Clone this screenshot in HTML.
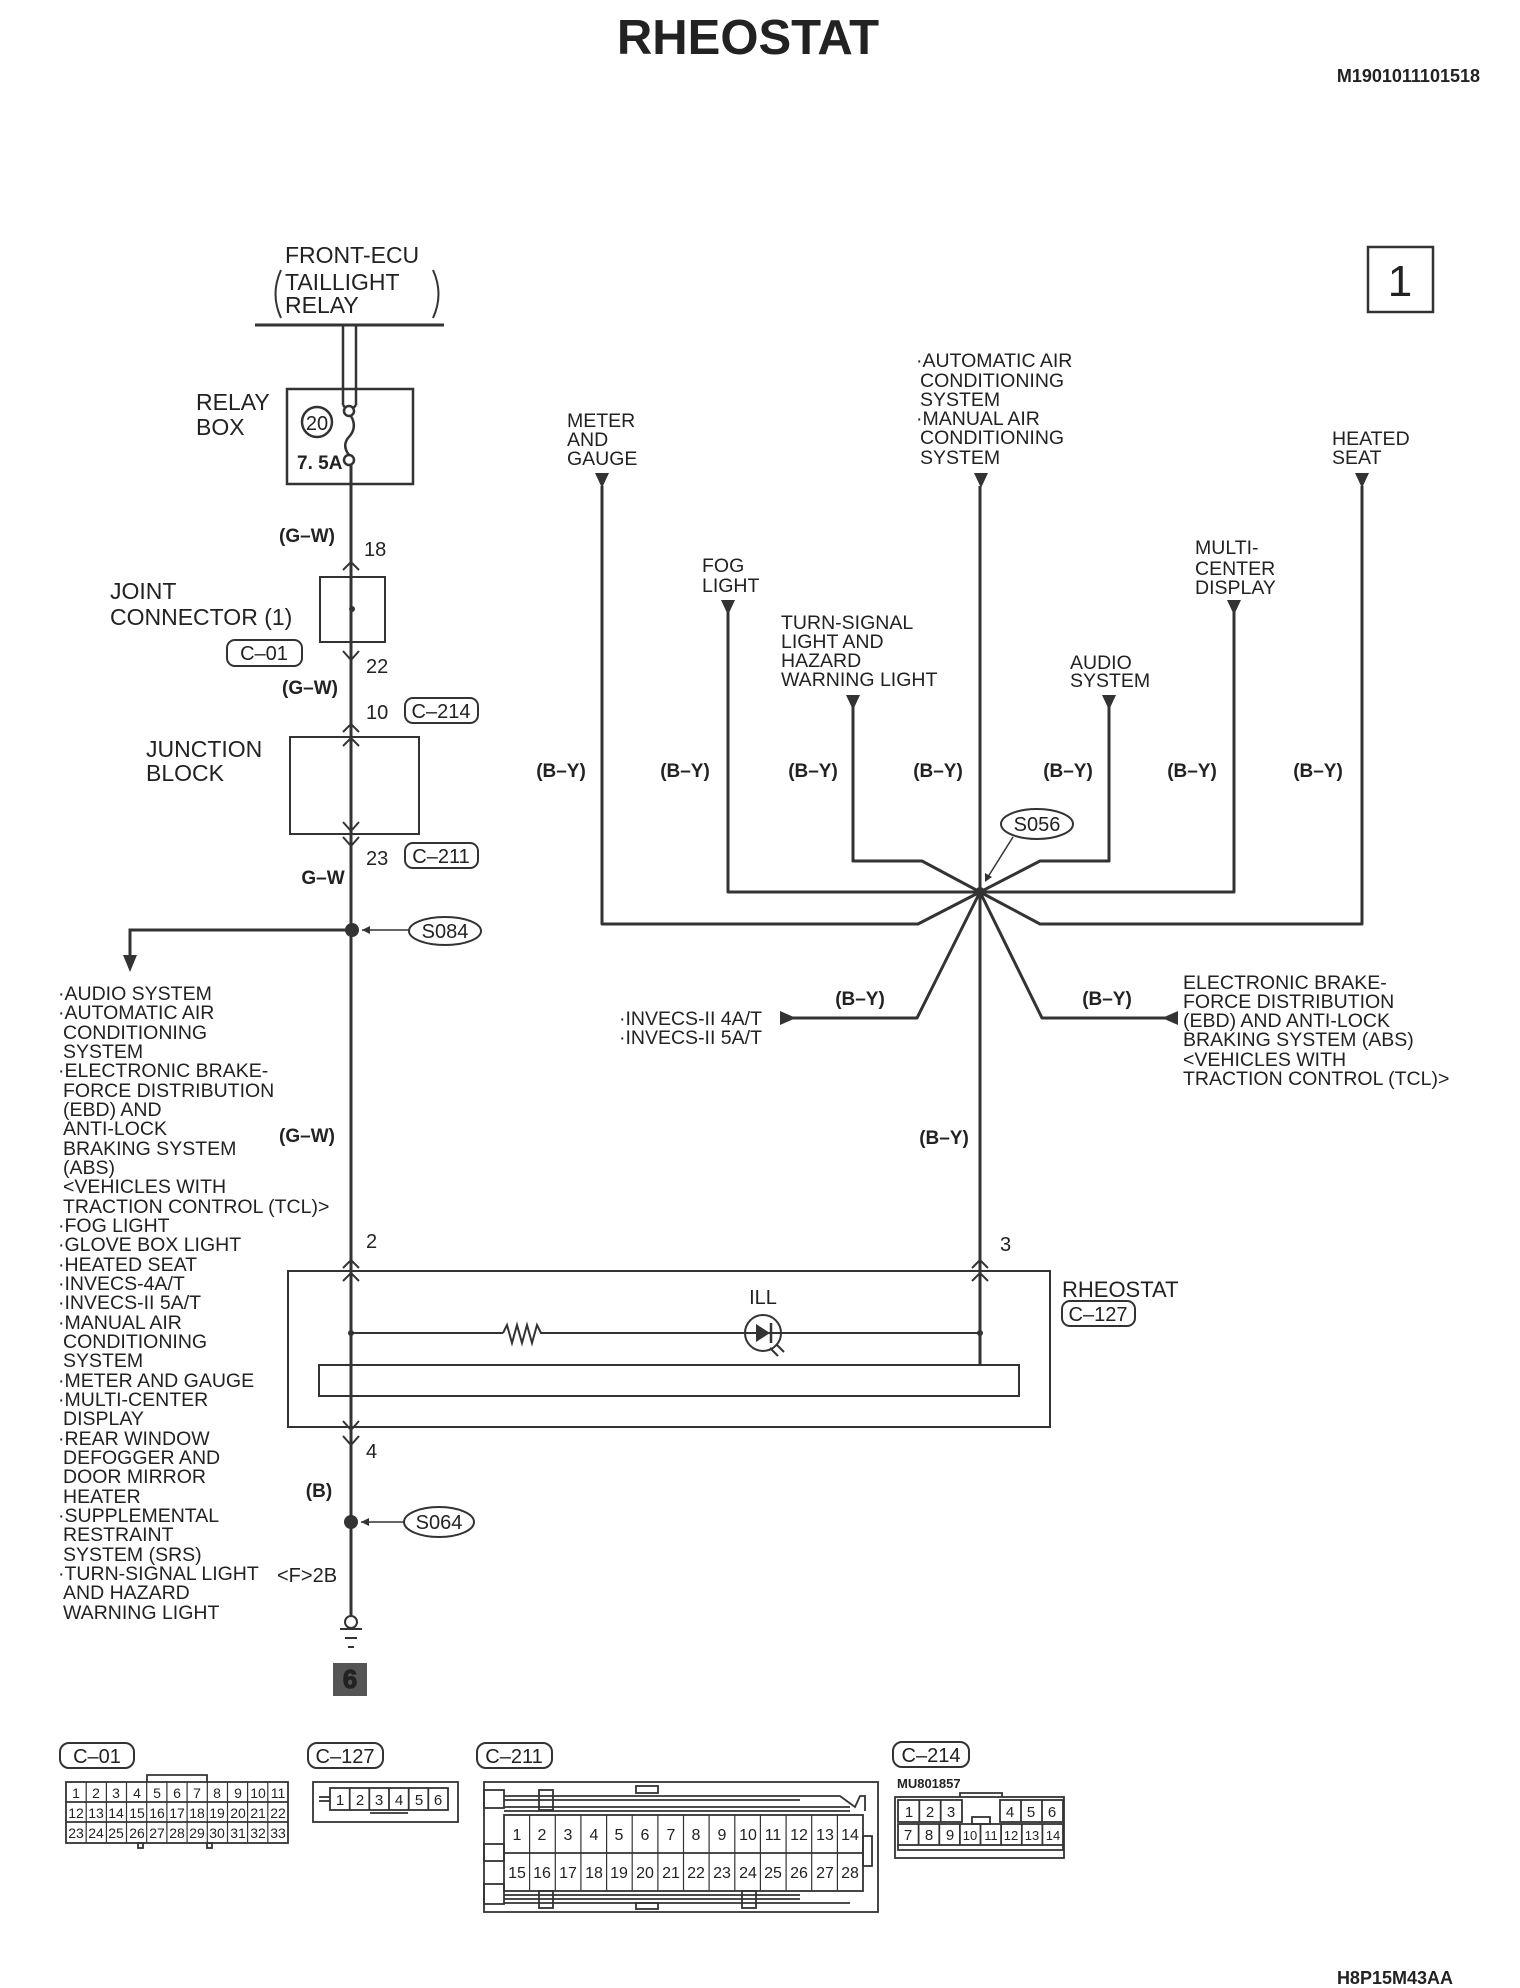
<!DOCTYPE html>
<html><head><meta charset="utf-8"><style>
html,body{margin:0;padding:0;background:#fff}
svg{display:block}
text{font-family:"Liberation Sans",sans-serif;fill:#222}
</style></head><body>
<svg width="1520" height="1988" viewBox="0 0 1520 1988" xmlns="http://www.w3.org/2000/svg">
<defs>
<g id="dn"><path d="M-7,0 L7,0 L0,15 Z" fill="#333"/></g>
</defs>
<text x="748" y="54" font-size="49" font-weight="bold" text-anchor="middle" fill="#111">RHEOSTAT</text>
<text x="1480" y="82" font-size="18" font-weight="bold" text-anchor="end">M1901011101518</text>

<rect x="1368" y="247" width="65" height="65" fill="none" stroke="#333" stroke-width="2.5"/>
<text x="1400" y="296" font-size="44" text-anchor="middle">1</text>

<g font-size="23">
<text x="285" y="263">FRONT-ECU</text>
<text x="285" y="290">TAILLIGHT</text>
<text x="285" y="313">RELAY</text>
</g>
<path d="M281,270 Q270,294 281,318 M433,270 Q444,294 433,318" stroke="#333" stroke-width="2" fill="none"/>
<line x1="255" y1="325" x2="444" y2="325" stroke="#333" stroke-width="3"/>
<g stroke="#333" stroke-width="2.5" fill="none">
<line x1="343" y1="325" x2="343" y2="405"/>
<line x1="356" y1="325" x2="356" y2="405"/>
<path d="M343,405 Q349,414 356,405"/>
<circle cx="349" cy="411" r="5" fill="#fff"/>
<path d="M351,416 Q358,428 348,438 Q342,446 349,455"/>
<circle cx="349" cy="460" r="5" fill="#fff"/>
<rect x="287" y="389" width="126" height="95"/>
<circle cx="317" cy="422" r="15"/>
</g>
<text x="317" y="430" font-size="20" text-anchor="middle">20</text>
<text x="297" y="469" font-size="19" font-weight="bold">7. 5A</text>
<g font-size="23"><text x="196" y="410">RELAY</text><text x="196" y="435">BOX</text></g>

<g stroke="#333" stroke-width="3" fill="none">
<line x1="351" y1="465" x2="351" y2="1623"/>
</g>
<g stroke="#333" stroke-width="2" fill="none">
<polyline points="343,570 351,562 359,570"/>
<rect x="320" y="577" width="65" height="65"/>
<polyline points="343,651 351,660 359,651"/>
<polyline points="343,732 351,724 359,732"/>
<rect x="290" y="737" width="129" height="97"/>
<polyline points="343,746 351,738 359,746"/>
<polyline points="343,822 351,831 359,822"/>
<polyline points="343,837 351,846 359,837"/>
</g>
<circle cx="352" cy="609" r="3" fill="#333"/>
<text x="307" y="542" font-size="19" text-anchor="middle" font-weight="bold">(G–W)</text>
<text x="364" y="556" font-size="20">18</text>
<g font-size="23"><text x="110" y="599">JOINT</text><text x="110" y="625">CONNECTOR (1)</text>
<text x="146" y="757">JUNCTION</text><text x="146" y="781">BLOCK</text></g>
<rect x="227" y="640" width="75" height="26" rx="8" fill="none" stroke="#333" stroke-width="2"/>
<text x="264" y="660" font-size="20" text-anchor="middle">C–01</text>
<text x="366" y="673" font-size="20">22</text>
<text x="310" y="694" font-size="19" text-anchor="middle" font-weight="bold">(G–W)</text>
<text x="366" y="719" font-size="20">10</text>
<rect x="405" y="698" width="73" height="25" rx="8" fill="none" stroke="#333" stroke-width="2"/>
<text x="441" y="718" font-size="20" text-anchor="middle">C–214</text>
<text x="366" y="865" font-size="20">23</text>
<rect x="405" y="843" width="73" height="25" rx="8" fill="none" stroke="#333" stroke-width="2"/>
<text x="441" y="863" font-size="20" text-anchor="middle">C–211</text>
<text x="323" y="884" font-size="19" text-anchor="middle" font-weight="bold">G–W</text>

<circle cx="352" cy="930" r="7" fill="#333"/>
<ellipse cx="445" cy="931" rx="36" ry="14" fill="none" stroke="#333" stroke-width="2"/>
<text x="445" y="938" font-size="20" text-anchor="middle">S084</text>
<line x1="409" y1="930" x2="362" y2="930" stroke="#333" stroke-width="1.5"/>
<path d="M362,930 l8,-4 v8 z" fill="#333"/>
<polyline points="351,930 130,930 130,960" stroke="#333" stroke-width="3" fill="none"/>
<path d="M123,955 L137,955 L130,972 Z" fill="#333"/>

<g font-size="19.5">
<text x="58" y="1000">·AUDIO SYSTEM</text>
<text x="58" y="1019">·AUTOMATIC AIR</text>
<text x="63" y="1039">CONDITIONING</text>
<text x="63" y="1058">SYSTEM</text>
<text x="58" y="1077">·ELECTRONIC BRAKE-</text>
<text x="63" y="1097">FORCE DISTRIBUTION</text>
<text x="63" y="1116">(EBD) AND</text>
<text x="63" y="1135">ANTI-LOCK</text>
<text x="63" y="1155">BRAKING SYSTEM</text>
<text x="63" y="1174">(ABS)</text>
<text x="63" y="1193">&lt;VEHICLES WITH</text>
<text x="63" y="1213">TRACTION CONTROL (TCL)&gt;</text>
<text x="58" y="1232">·FOG LIGHT</text>
<text x="58" y="1251">·GLOVE BOX LIGHT</text>
<text x="58" y="1271">·HEATED SEAT</text>
<text x="58" y="1290">·INVECS-4A/T</text>
<text x="58" y="1309">·INVECS-II 5A/T</text>
<text x="58" y="1329">·MANUAL AIR</text>
<text x="63" y="1348">CONDITIONING</text>
<text x="63" y="1367">SYSTEM</text>
<text x="58" y="1387">·METER AND GAUGE</text>
<text x="58" y="1406">·MULTI-CENTER</text>
<text x="63" y="1425">DISPLAY</text>
<text x="58" y="1445">·REAR WINDOW</text>
<text x="63" y="1464">DEFOGGER AND</text>
<text x="63" y="1483">DOOR MIRROR</text>
<text x="63" y="1503">HEATER</text>
<text x="58" y="1522">·SUPPLEMENTAL</text>
<text x="63" y="1541">RESTRAINT</text>
<text x="63" y="1561">SYSTEM (SRS)</text>
<text x="58" y="1580">·TURN-SIGNAL LIGHT</text>
<text x="63" y="1599">AND HAZARD</text>
<text x="63" y="1619">WARNING LIGHT</text>
</g>
<text x="307" y="1142" font-size="19" text-anchor="middle" font-weight="bold">(G–W)</text>
<text x="366" y="1248" font-size="20">2</text>

<g stroke="#333" stroke-width="2" fill="none">
<polyline points="343,1268 351,1260 359,1268"/>
<polyline points="343,1281 351,1273 359,1281"/>
<polyline points="972,1268 980,1260 988,1268"/>
<polyline points="972,1281 980,1273 988,1281"/>
<rect x="288" y="1271" width="762" height="156"/>
<line x1="351" y1="1333" x2="503" y2="1333"/>
<polyline points="503,1333 507,1325 512,1343 517,1325 522,1343 527,1325 532,1343 537,1325 541,1333 543,1333"/>
<line x1="543" y1="1333" x2="980" y2="1333"/>
<circle cx="763" cy="1333" r="18" fill="#fff"/>
<rect x="319" y="1365" width="700" height="31"/>
<polyline points="343,1421 351,1430 359,1421"/>
<polyline points="343,1436 351,1445 359,1436"/>
<line x1="770" y1="1348" x2="778" y2="1356"/><line x1="776" y1="1344" x2="784" y2="1352"/>
</g>
<path d="M756,1324 L770,1333 L756,1342 Z" fill="#333"/>
<line x1="771" y1="1323" x2="771" y2="1343" stroke="#333" stroke-width="2.5"/>
<line x1="745" y1="1333" x2="781" y2="1333" stroke="#333" stroke-width="2"/>
<circle cx="351" cy="1333" r="3" fill="#333"/><circle cx="980" cy="1333" r="3" fill="#333"/>
<line x1="980" y1="1333" x2="980" y2="1365" stroke="#333" stroke-width="3"/>
<text x="763" y="1304" font-size="20" text-anchor="middle">ILL</text>
<text x="1000" y="1251" font-size="20">3</text>
<text x="1062" y="1297" font-size="22">RHEOSTAT</text>
<rect x="1062" y="1301" width="73" height="25" rx="8" fill="none" stroke="#333" stroke-width="2"/>
<text x="1098" y="1321" font-size="20" text-anchor="middle">C–127</text>
<text x="366" y="1458" font-size="20">4</text>
<text x="319" y="1497" font-size="19" text-anchor="middle" font-weight="bold">(B)</text>
<circle cx="351" cy="1522" r="7" fill="#333"/>
<ellipse cx="439" cy="1522" rx="35" ry="15" fill="none" stroke="#333" stroke-width="2"/>
<text x="439" y="1529" font-size="20" text-anchor="middle">S064</text>
<line x1="404" y1="1522" x2="361" y2="1522" stroke="#333" stroke-width="1.5"/>
<path d="M361,1522 l8,-4 v8 z" fill="#333"/>
<text x="277" y="1582" font-size="20">&lt;F&gt;2B</text>
<circle cx="351" cy="1622" r="6" fill="#fff" stroke="#333" stroke-width="2"/>
<g stroke="#333" stroke-width="2"><line x1="340" y1="1629" x2="362" y2="1629"/><line x1="345" y1="1638" x2="357" y2="1638"/><line x1="348" y1="1647" x2="354" y2="1647"/></g>
<rect x="333" y="1663" width="34" height="33" fill="#555"/>
<text x="350" y="1688" font-size="26" font-weight="bold" text-anchor="middle" fill="#fff" stroke="#222" stroke-width="1">6</text>

<g font-size="19.5">
<text x="567" y="427">METER</text><text x="567" y="446">AND</text><text x="567" y="465">GAUGE</text>
<text x="916" y="367">·AUTOMATIC AIR</text>
<text x="920" y="387">CONDITIONING</text>
<text x="920" y="406">SYSTEM</text>
<text x="916" y="425">·MANUAL AIR</text>
<text x="920" y="444">CONDITIONING</text>
<text x="920" y="464">SYSTEM</text>
<text x="1332" y="445">HEATED</text><text x="1332" y="464">SEAT</text>
<text x="702" y="572">FOG</text><text x="702" y="592">LIGHT</text>
<text x="1195" y="554">MULTI-</text><text x="1195" y="575">CENTER</text><text x="1195" y="594">DISPLAY</text>
<text x="781" y="629">TURN-SIGNAL</text><text x="781" y="648">LIGHT AND</text><text x="781" y="667">HAZARD</text><text x="781" y="686">WARNING LIGHT</text>
<text x="1070" y="669">AUDIO</text><text x="1070" y="687">SYSTEM</text>
<text x="1183" y="989">ELECTRONIC BRAKE-</text>
<text x="1183" y="1008">FORCE DISTRIBUTION</text>
<text x="1183" y="1027">(EBD) AND ANTI-LOCK</text>
<text x="1183" y="1046">BRAKING SYSTEM (ABS)</text>
<text x="1183" y="1066">&lt;VEHICLES WITH</text>
<text x="1183" y="1085">TRACTION CONTROL (TCL)&gt;</text>
<text x="762" y="1025" text-anchor="end">·INVECS-II 4A/T</text>
<text x="762" y="1044" text-anchor="end">·INVECS-II 5A/T</text>
</g>

<use href="#dn" x="602" y="473"/>
<use href="#dn" x="981" y="473"/>
<use href="#dn" x="1362" y="473"/>
<use href="#dn" x="728" y="600"/>
<use href="#dn" x="1234" y="600"/>
<use href="#dn" x="853" y="695"/>
<use href="#dn" x="1109" y="695"/>

<g stroke="#333" stroke-width="3" fill="none" stroke-linejoin="round">
<polyline points="602,486 602,924 918,924 980,892"/>
<polyline points="1362,486 1362,924 1040,924 980,892"/>
<polyline points="728,612 728,892 1234,892 1234,612"/>
<polyline points="853,707 853,861 922,861 980,892"/>
<polyline points="1109,707 1109,861 1040,861 980,892"/>
<line x1="980" y1="486" x2="980" y2="1365"/>
<polyline points="980,892 917,1018 792,1018"/>
<polyline points="980,892 1042,1018 1168,1018"/>
</g>
<path d="M780,1011 L780,1025 L796,1018 Z" fill="#333"/>
<path d="M1178,1011 L1178,1025 L1162,1018 Z" fill="#333"/>
<circle cx="980" cy="892" r="5" fill="#333"/>
<ellipse cx="1037" cy="824" rx="36" ry="15" fill="none" stroke="#333" stroke-width="2"/>
<text x="1037" y="831" font-size="20" text-anchor="middle">S056</text>
<line x1="1013" y1="837" x2="986" y2="880" stroke="#333" stroke-width="1.5"/>
<path d="M985,882 l0,-9 l7,4 z" fill="#333"/>

<g font-size="19" font-weight="bold" text-anchor="middle">
<text x="561" y="777">(B–Y)</text>
<text x="685" y="777">(B–Y)</text>
<text x="813" y="777">(B–Y)</text>
<text x="938" y="777">(B–Y)</text>
<text x="1068" y="777">(B–Y)</text>
<text x="1192" y="777">(B–Y)</text>
<text x="1318" y="777">(B–Y)</text>
<text x="860" y="1005">(B–Y)</text>
<text x="1107" y="1005">(B–Y)</text>
<text x="944" y="1144">(B–Y)</text>
</g>

<g stroke="#333" stroke-width="2" fill="none">
<rect x="60" y="1743" width="74" height="25" rx="9"/>
<rect x="308" y="1743" width="75" height="25" rx="9"/>
<rect x="477" y="1743" width="75" height="25" rx="9"/>
<rect x="893" y="1742" width="76" height="25" rx="9"/>
</g>
<g font-size="20" text-anchor="middle">
<text x="97" y="1763">C–01</text><text x="345" y="1763">C–127</text><text x="514" y="1763">C–211</text><text x="931" y="1762">C–214</text>
</g>
<g stroke="#333" stroke-width="1.8" fill="none">
<rect x="66" y="1782" width="222" height="61"/>
<line x1="66" y1="1802" x2="288" y2="1802"/><line x1="66" y1="1822" x2="288" y2="1822"/>
<polyline points="147,1782 147,1775 207,1775 207,1782"/>
<rect x="138" y="1843" width="5" height="5"/><rect x="207" y="1843" width="5" height="5"/>
</g>
<g stroke="#333" stroke-width="1.2">
<line x1="86.2" y1="1782" x2="86.2" y2="1843"/><line x1="106.4" y1="1782" x2="106.4" y2="1843"/><line x1="126.5" y1="1782" x2="126.5" y2="1843"/><line x1="146.7" y1="1782" x2="146.7" y2="1843"/><line x1="166.9" y1="1782" x2="166.9" y2="1843"/><line x1="187.1" y1="1782" x2="187.1" y2="1843"/><line x1="207.3" y1="1782" x2="207.3" y2="1843"/><line x1="227.5" y1="1782" x2="227.5" y2="1843"/><line x1="247.6" y1="1782" x2="247.6" y2="1843"/><line x1="267.8" y1="1782" x2="267.8" y2="1843"/>
</g>
<g font-size="14" text-anchor="middle">
<text x="76" y="1798">1</text><text x="96" y="1798">2</text><text x="116" y="1798">3</text><text x="137" y="1798">4</text><text x="157" y="1798">5</text><text x="177" y="1798">6</text><text x="197" y="1798">7</text><text x="217" y="1798">8</text><text x="238" y="1798">9</text><text x="258" y="1798">10</text><text x="278" y="1798">11</text>
<text x="76" y="1818">12</text><text x="96" y="1818">13</text><text x="116" y="1818">14</text><text x="137" y="1818">15</text><text x="157" y="1818">16</text><text x="177" y="1818">17</text><text x="197" y="1818">18</text><text x="217" y="1818">19</text><text x="238" y="1818">20</text><text x="258" y="1818">21</text><text x="278" y="1818">22</text>
<text x="76" y="1838">23</text><text x="96" y="1838">24</text><text x="116" y="1838">25</text><text x="137" y="1838">26</text><text x="157" y="1838">27</text><text x="177" y="1838">28</text><text x="197" y="1838">29</text><text x="217" y="1838">30</text><text x="238" y="1838">31</text><text x="258" y="1838">32</text><text x="278" y="1838">33</text>
</g>
<g stroke="#333" stroke-width="1.8" fill="none">
<rect x="313" y="1782" width="145" height="40"/>
<rect x="330" y="1788" width="118" height="22"/>
<line x1="319" y1="1797" x2="330" y2="1797"/><line x1="319" y1="1801" x2="330" y2="1801"/>
<line x1="349.7" y1="1788" x2="349.7" y2="1810"/><line x1="369.3" y1="1788" x2="369.3" y2="1810"/><line x1="389" y1="1788" x2="389" y2="1810"/><line x1="408.7" y1="1788" x2="408.7" y2="1810"/><line x1="428.3" y1="1788" x2="428.3" y2="1810"/>
<line x1="370" y1="1813" x2="408" y2="1813"/>
</g>
<g font-size="15" text-anchor="middle">
<text x="340" y="1805">1</text><text x="360" y="1805">2</text><text x="379" y="1805">3</text><text x="399" y="1805">4</text><text x="419" y="1805">5</text><text x="438" y="1805">6</text>
</g>
<!-- C-211 -->
<g stroke="#333" stroke-width="1.8" fill="none">
<rect x="484" y="1782" width="394" height="130"/>
<rect x="504" y="1815" width="359" height="76"/>
<line x1="504" y1="1853" x2="863" y2="1853"/>
<rect x="484" y="1790" width="20" height="18"/><rect x="484" y="1844" width="20" height="17"/><rect x="484" y="1884" width="20" height="20"/>
<line x1="504" y1="1796" x2="800" y2="1796"/><line x1="504" y1="1800" x2="800" y2="1800"/>
<line x1="504" y1="1807" x2="850" y2="1807"/><line x1="504" y1="1811" x2="850" y2="1811"/>
<polyline points="800,1796 840,1796 855,1807 860,1796 865,1796 865,1811"/>
<rect x="539" y="1790" width="14" height="20"/>
<rect x="636" y="1786" width="22" height="7"/>
<line x1="504" y1="1895" x2="800" y2="1895"/><line x1="504" y1="1899" x2="800" y2="1899"/>
<line x1="504" y1="1903" x2="850" y2="1903"/>
<rect x="539" y="1891" width="14" height="17"/><rect x="742" y="1891" width="14" height="17"/>
<rect x="636" y="1903" width="22" height="6"/>
<rect x="863" y="1836" width="9" height="30"/>
</g>
<g stroke="#333" stroke-width="1.2">
<line x1="529.6" y1="1815" x2="529.6" y2="1891"/><line x1="555.3" y1="1815" x2="555.3" y2="1891"/><line x1="580.9" y1="1815" x2="580.9" y2="1891"/><line x1="606.6" y1="1815" x2="606.6" y2="1891"/><line x1="632.2" y1="1815" x2="632.2" y2="1891"/><line x1="657.9" y1="1815" x2="657.9" y2="1891"/><line x1="683.5" y1="1815" x2="683.5" y2="1891"/><line x1="709.1" y1="1815" x2="709.1" y2="1891"/><line x1="734.8" y1="1815" x2="734.8" y2="1891"/><line x1="760.4" y1="1815" x2="760.4" y2="1891"/><line x1="786.1" y1="1815" x2="786.1" y2="1891"/><line x1="811.7" y1="1815" x2="811.7" y2="1891"/><line x1="837.4" y1="1815" x2="837.4" y2="1891"/>
</g>
<g font-size="16" text-anchor="middle">
<text x="517" y="1840">1</text><text x="542" y="1840">2</text><text x="568" y="1840">3</text><text x="594" y="1840">4</text><text x="619" y="1840">5</text><text x="645" y="1840">6</text><text x="671" y="1840">7</text><text x="696" y="1840">8</text><text x="722" y="1840">9</text><text x="748" y="1840">10</text><text x="773" y="1840">11</text><text x="799" y="1840">12</text><text x="825" y="1840">13</text><text x="850" y="1840">14</text>
<text x="517" y="1878">15</text><text x="542" y="1878">16</text><text x="568" y="1878">17</text><text x="594" y="1878">18</text><text x="619" y="1878">19</text><text x="645" y="1878">20</text><text x="671" y="1878">21</text><text x="696" y="1878">22</text><text x="722" y="1878">23</text><text x="748" y="1878">24</text><text x="773" y="1878">25</text><text x="799" y="1878">26</text><text x="825" y="1878">27</text><text x="850" y="1878">28</text>
</g>
<text x="897" y="1788" font-size="13" font-weight="bold">MU801857</text>
<g stroke="#333" stroke-width="1.8" fill="none">
<rect x="895" y="1797" width="169" height="61"/>
<polyline points="960,1797 960,1793 1002,1793 1002,1797"/>
<rect x="898" y="1800" width="64" height="22"/>
<rect x="1000" y="1800" width="63" height="22"/>
<rect x="898" y="1824" width="165" height="21"/>
<rect x="972" y="1817" width="18" height="7"/>
<polyline points="898,1845 898,1850 1063,1850 1063,1845"/>
<line x1="919.3" y1="1800" x2="919.3" y2="1822"/><line x1="940.7" y1="1800" x2="940.7" y2="1822"/>
<line x1="1021" y1="1800" x2="1021" y2="1822"/><line x1="1042" y1="1800" x2="1042" y2="1822"/>
<line x1="918.6" y1="1824" x2="918.6" y2="1845"/><line x1="939.3" y1="1824" x2="939.3" y2="1845"/><line x1="959.9" y1="1824" x2="959.9" y2="1845"/><line x1="980.5" y1="1824" x2="980.5" y2="1845"/><line x1="1001.1" y1="1824" x2="1001.1" y2="1845"/><line x1="1021.8" y1="1824" x2="1021.8" y2="1845"/><line x1="1042.4" y1="1824" x2="1042.4" y2="1845"/>
</g>
<g font-size="15" text-anchor="middle">
<text x="909" y="1817">1</text><text x="930" y="1817">2</text><text x="951" y="1817">3</text><text x="1010" y="1817">4</text><text x="1031" y="1817">5</text><text x="1052" y="1817">6</text>
<text x="908" y="1840">7</text><text x="929" y="1840">8</text><text x="950" y="1840">9</text><text x="970" y="1840" font-size="13">10</text><text x="991" y="1840" font-size="13">11</text><text x="1011" y="1840" font-size="13">12</text><text x="1032" y="1840" font-size="13">13</text><text x="1053" y="1840" font-size="13">14</text>
</g>
<text x="1453" y="1984" font-size="18" font-weight="bold" text-anchor="end">H8P15M43AA</text>
</svg>
</body></html>
